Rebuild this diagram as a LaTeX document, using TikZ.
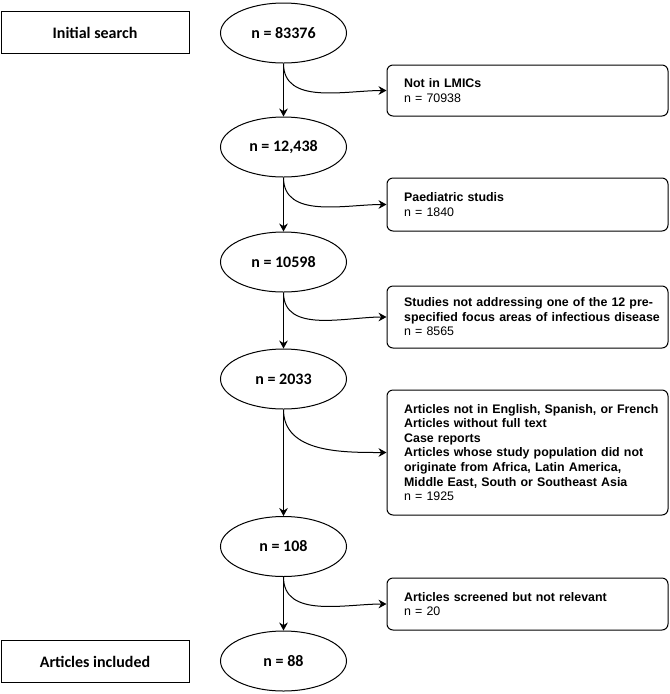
\documentclass[tikz,border=0pt]{standalone}
\usepackage{fontspec}
\setmainfont{Liberation Sans}
\newfontfamily\calibri{Carlito}
\usetikzlibrary{shapes.geometric, positioning, arrows.meta}

\begin{document}
\begin{tikzpicture}[x=0.75pt, y=-0.75pt, >={Stealth[length=6pt,width=6.5pt,inset=2pt]},
  line width=0.75pt,
  count/.style={ellipse, draw, minimum width=94.5pt, minimum height=45pt, inner sep=0pt,
    font=\calibri\bfseries\fontsize{12}{14}\selectfont},
  stage/.style={rectangle, draw, minimum width=141pt, minimum height=31pt,
    font=\calibri\bfseries\fontsize{12}{14}\selectfont},
  excl/.style={rectangle, draw, rounded corners=4.5pt, minimum width=210.75pt,
    text width=185pt, inner xsep=12.75pt, align=left,
    font=\fontsize{9.3}{10.9}\selectfont}]
  \useasboundingbox (0,0) rectangle (670,694);

  \node[stage] (start) at (95,32.5) {Initial search};
  \node[stage, minimum height=32pt] (final) at (95,661.5) {Articles included};

  \node[count] (n1) at (283.5,33) {n = 83376};
  \node[count] (n2) at (283.5,147) {n = 12,438};
  \node[count] (n3) at (283.5,262) {n = 10598};
  \node[count] (n4) at (283.5,379) {n = 2033};
  \node[count] (n5) at (283.5,546.5) {n = 108};
  \node[count] (n6) at (283.5,661) {n = 88};

  \node[excl, minimum height=38.25pt] (x1) at (527.5,90.5)
    {\textbf{Not in LMICs}\\n = 70938};
  \node[excl, minimum height=39.75pt] (x2) at (527.5,204.5)
    {\textbf{Paediatric studis}\\n = 1840};
  \node[excl, minimum height=46.5pt] (x3) at (527.5,317)
    {\mbox{\textbf{Studies not addressing one of the 12 pre-}}\\
     \mbox{\textbf{specified focus areas of infectious disease}}\\n = 8565};
  \node[excl, minimum height=93.75pt] (x4) at (527.5,452.5)
    {\mbox{\textbf{Articles not in English, Spanish, or French}}\\
     \textbf{Articles without full text}\\
     \textbf{Case reports}\\
     \mbox{\textbf{Articles whose study population did not}}\\
     \mbox{\textbf{originate from Africa, Latin America,}}\\
     \mbox{\textbf{Middle East, South or Southeast Asia}}\\
     n = 1925};
  \node[excl, minimum height=39pt] (x5) at (527.5,604)
    {\mbox{\textbf{Articles screened but not relevant}}\\n = 20};

  \path[->]
  (n1) edge (n2)
    (n1.south) edge [out=-90, in=180] (x1.west)
  (n2) edge (n3)
    (n2.south) edge [out=-90, in=180] (x2.west)
  (n3) edge (n4)
    (n3.south) edge [out=-90, in=180] (x3.west)
  (n4) edge (n5)
    (n4.south) edge [out=-90, in=180] (x4.west)
  (n5) edge (n6)
    (n5.south) edge [out=-90, in=180] (x5.west);

\end{tikzpicture}
\end{document}
